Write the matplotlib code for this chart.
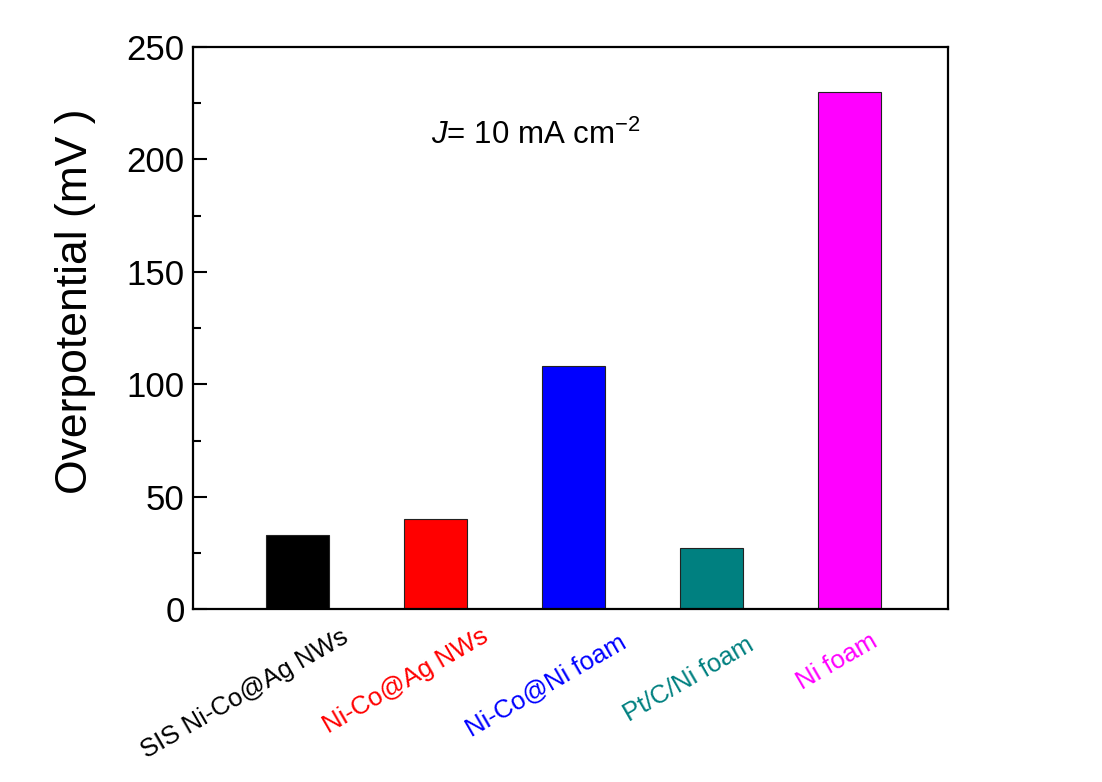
import matplotlib
matplotlib.use('Agg')
import matplotlib.pyplot as plt
import matplotlib.transforms as mtransforms
from matplotlib.ticker import MultipleLocator

plt.rcParams['font.family'] = ['Liberation Sans', 'DejaVu Sans']
plt.rcParams['mathtext.fontset'] = 'custom'
plt.rcParams['mathtext.rm'] = 'Liberation Sans'
plt.rcParams['mathtext.it'] = 'Liberation Sans:italic'

# data
samples = ['SIS Ni-Co@Ag NWs', 'Ni-Co@Ag NWs', 'Ni-Co@Ni foam', 'Pt/C/Ni foam', 'Ni foam']
overpotential = [33, 40, 108, 27, 230]
colors = ['#000000', '#ff0000', '#0000ff', '#008080', '#ff00ff']

fig = plt.figure(figsize=(11.02, 7.82), dpi=100)
ax = fig.add_axes([0.175, 0.221, 0.685, 0.719])

pos = list(range(1, len(samples) + 1))
ax.bar(pos, overpotential, width=0.46, color=colors, edgecolor='#222222', linewidth=0.8)

ax.set_xlim(0.24, 5.71)
ax.set_ylim(0, 250)
ax.yaxis.set_major_locator(MultipleLocator(50))
ax.yaxis.set_minor_locator(MultipleLocator(25))
ax.tick_params(axis='y', which='major', direction='in', length=10, width=1.5, labelsize=25, pad=6)
ax.tick_params(axis='y', which='minor', direction='in', length=6, width=1.5)
ax.tick_params(axis='x', length=0, pad=6)
for s in ax.spines.values():
    s.set_linewidth(1.6)

ax.set_xticks(pos)
ax.set_xticklabels(samples, rotation=30, ha='right', va='top', rotation_mode='anchor', fontsize=18.5)
# labels were nudged by hand in the original, shift each a bit (inches)
shifts = [(0.43, -0.07), (0.45, -0.07), (0.45, -0.12), (0.34, -0.15), (0.20, -0.12)]
for lab, c, (dx, dy) in zip(ax.get_xticklabels(), colors, shifts):
    lab.set_color(c)
    lab.set_transform(lab.get_transform() + mtransforms.ScaledTranslation(dx, dy, fig.dpi_scale_trans))

ax.set_ylabel('Overpotential (mV )', fontsize=32)
ax.yaxis.set_label_coords(-0.128, 0.548)
ax.text(0.315, 0.827, r'$\it{J}$= 10 mA cm$^{\mathregular{-2}}$', transform=ax.transAxes, fontsize=22.5)

fig.savefig('out.png', dpi=100, facecolor='white')
